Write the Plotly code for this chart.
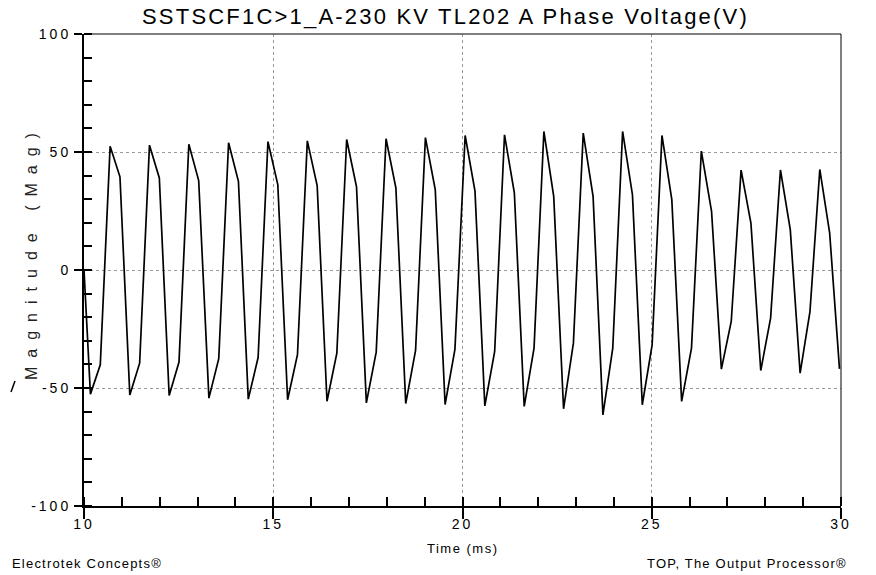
import plotly.graph_objects as go

# Phase-A voltage samples (ms, V) — one record every 0.2604 ms (64 samples per 60 Hz cycle)
time_ms = [
    10.00, 10.17, 10.43, 10.69, 10.95, 11.21, 11.47, 11.73, 11.99, 12.25,
    12.51, 12.77, 13.03, 13.30, 13.56, 13.82, 14.08, 14.34, 14.60, 14.86,
    15.12, 15.38, 15.64, 15.90, 16.16, 16.42, 16.68, 16.94, 17.20, 17.46,
    17.72, 17.98, 18.24, 18.50, 18.76, 19.02, 19.28, 19.54, 19.80, 20.07,
    20.33, 20.59, 20.85, 21.11, 21.37, 21.63, 21.89, 22.15, 22.41, 22.67,
    22.93, 23.19, 23.45, 23.71, 23.97, 24.23, 24.49, 24.75, 25.01, 25.27,
    25.53, 25.79, 26.05, 26.31, 26.58, 26.84, 27.10, 27.36, 27.62, 27.88,
    28.14, 28.40, 28.66, 28.92, 29.18, 29.44, 29.70, 29.96,
]
voltage = [
    0.0,
    -52.6, -40.2, 52.4, 39.5,
    -53.0, -39.5, 52.9, 39.0,
    -53.2, -39.0, 53.3, 37.9,
    -54.3, -37.6, 53.9, 37.6,
    -54.7, -37.1, 54.4, 36.2,
    -55.0, -35.9, 54.7, 35.8,
    -55.6, -35.2, 55.3, 35.2,
    -56.3, -34.8, 55.6, 34.8,
    -56.6, -34.1, 56.1, 34.1,
    -57.0, -33.6, 57.0, 33.4,
    -57.6, -34.5, 57.3, 32.7,
    -57.8, -33.1, 58.7, 31.2,
    -58.8, -31.0, 58.0, 31.2,
    -61.4, -33.1, 58.7, 31.9,
    -57.1, -31.7, 57.0, 29.8,
    -55.7, -33.1, 50.4, 24.9,
    -42.0, -21.8, 42.3, 19.9,
    -42.6, -20.4, 42.4, 17.1,
    -43.7, -17.6, 42.6, 15.7,
    -41.9,
]

x_ticks = [10, 15, 20, 25, 30]
y_ticks = [-100, -50, 0, 50, 100]

title_text = "SSTSCF1C>1_A-230 KV TL202 A Phase Voltage(V)"
x_title = "Time (ms)"
y_title = "Magnitude (Mag)"
footer_left = "Electrotek Concepts®"
footer_right = "TOP, The Output Processor®"

W, H = 876, 575
L, R, T, B = 84, 35, 34, 69
PW, PH = W - L - R, H - T - B

FONT = "Liberation Sans, Arial, sans-serif"


def spaced(s, px):
    return f"<span style='letter-spacing:{px}px'>{s}</span>"


def px_x(p):
    return (p - L) / PW


def px_y(p):
    return (H - B - p) / PH


fig = go.Figure(
    go.Scatter(
        x=time_ms, y=voltage, mode="lines",
        line=dict(color="black", width=1.7),
        hoverinfo="skip", showlegend=False,
    )
)

axis_common = dict(
    showline=True, linecolor="black", linewidth=2,
    ticks="outside", tickcolor="black", tickwidth=1.5,
    showgrid=True, gridcolor="#9a9a9a", griddash="dot", gridwidth=1,
    zeroline=False, tickfont=dict(family=FONT, size=14, color="black"),
)

fig.update_xaxes(
    **axis_common,
    range=[10, 30], tickvals=x_ticks, ticktext=[spaced(str(v), 3) for v in x_ticks],
    ticklen=11, ticklabelstandoff=-7,
    minor=dict(dtick=1, tick0=10, ticks="inside", ticklen=9, tickwidth=1.5,
               tickcolor="black", showgrid=False),
)
fig.update_yaxes(
    **axis_common,
    range=[-100, 100], tickvals=y_ticks, ticktext=[spaced(str(v), 3) for v in y_ticks],
    ticklen=8, ticklabelstandoff=0,
    minor=dict(dtick=10, tick0=0, ticks="inside", ticklen=8, tickwidth=1.5,
               tickcolor="black", showgrid=False),
)

# thin frame on the top and right edges of the plot area
fig.add_shape(type="line", xref="paper", yref="paper", x0=0, x1=1, y0=1, y1=1,
              line=dict(color="black", width=1))
fig.add_shape(type="line", xref="paper", yref="paper", x0=1, x1=1, y0=0, y1=1,
              line=dict(color="black", width=1))
# short stroke left of the axis title
fig.add_shape(type="line", xref="paper", yref="paper",
              x0=px_x(11), x1=px_x(15), y0=px_y(392), y1=px_y(381),
              line=dict(color="black", width=1.5))

annotations = [
    dict(text=spaced(title_text, 2.2), x=px_x(445), y=px_y(17),
         font=dict(family=FONT, size=22, color="black"),
         xanchor="center", yanchor="middle"),
    dict(text=spaced(x_title, 1.5), x=px_x(463), y=px_y(548),
         font=dict(family=FONT, size=13, color="black"),
         xanchor="center", yanchor="middle"),
    dict(text=spaced(y_title, 9), x=px_x(31), y=px_y(252), textangle=-90,
         font=dict(family=FONT, size=16, color="#222"),
         xanchor="center", yanchor="middle"),
    dict(text=spaced(footer_left, 1.2), x=px_x(10), y=px_y(563),
         font=dict(family=FONT, size=13, color="black"),
         xanchor="left", yanchor="middle"),
    dict(text=spaced(footer_right, 1.2), x=px_x(849), y=px_y(563),
         font=dict(family=FONT, size=13, color="black"),
         xanchor="right", yanchor="middle"),
]
for a in annotations:
    a.update(xref="paper", yref="paper", showarrow=False)
fig.update_layout(annotations=annotations)

fig.update_layout(
    width=W, height=H,
    margin=dict(l=L, r=R, t=T, b=B),
    paper_bgcolor="white", plot_bgcolor="white",
    font=dict(family=FONT, color="black"),
)

fig.write_html("out.html")
